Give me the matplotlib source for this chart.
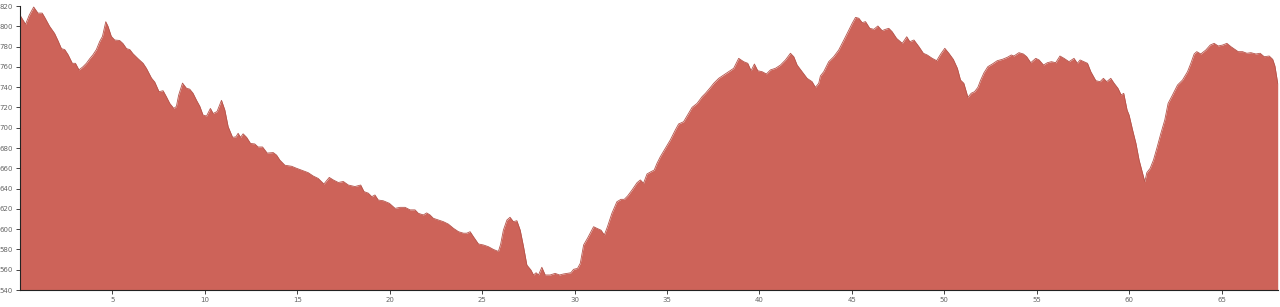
import matplotlib
matplotlib.use("Agg")
import matplotlib.pyplot as plt

# distance along route (km)
distance_km = [
    0.0, 0.3, 0.5, 0.74, 0.97, 1.2, 1.33, 1.6, 1.87, 2.05, 2.24, 2.42, 2.6, 2.83, 3.0,
    3.19, 3.4, 3.59, 3.77, 3.95, 4.13, 4.31, 4.46, 4.64, 4.76, 4.94, 5.12, 5.39, 5.57,
    5.76, 5.94, 6.11, 6.39, 6.66, 6.84, 7.11, 7.29, 7.52, 7.74, 7.92, 8.1, 8.32, 8.46,
    8.58, 8.79, 9.0, 9.18, 9.36, 9.55, 9.73, 9.9, 10.09, 10.3, 10.45, 10.66, 10.9,
    11.08, 11.26, 11.5, 11.68, 11.8, 11.93, 12.07, 12.26, 12.47, 12.7, 12.88, 13.12,
    13.37, 13.7, 13.88, 14.06, 14.33, 14.69, 14.96, 15.32, 15.59, 15.86, 16.13, 16.44,
    16.73, 16.95, 17.22, 17.49, 17.76, 18.12, 18.43, 18.61, 18.84, 19.03, 19.2, 19.38,
    19.65, 19.98, 20.29, 20.56, 20.83, 21.1, 21.37, 21.55, 21.82, 22.0, 22.18, 22.36,
    22.63, 22.9, 23.17, 23.45, 23.72, 23.99, 24.17, 24.35, 24.53, 24.8, 25.07, 25.34,
    25.61, 25.88, 26.0, 26.15, 26.34, 26.51, 26.69, 26.88, 27.06, 27.24, 27.42, 27.64,
    27.78, 27.92, 28.05, 28.23, 28.41, 28.68, 28.95, 29.19, 29.4, 29.59, 29.8, 29.95,
    30.16, 30.31, 30.49, 30.7, 30.89, 31.03, 31.21, 31.43, 31.61, 31.78, 32.02, 32.29,
    32.51, 32.69, 32.87, 33.11, 33.38, 33.56, 33.73, 33.92, 34.13, 34.31, 34.46, 34.64,
    34.91, 35.18, 35.45, 35.63, 35.9, 36.17, 36.36, 36.63, 36.9, 37.08, 37.31, 37.53,
    37.8, 38.07, 38.34, 38.61, 38.88, 39.15, 39.37, 39.55, 39.73, 39.91, 40.15, 40.38,
    40.6, 40.87, 41.14, 41.41, 41.68, 41.86, 42.04, 42.31, 42.58, 42.85, 43.03, 43.21,
    43.3, 43.48, 43.75, 44.02, 44.29, 44.57, 44.84, 45.02, 45.2, 45.38, 45.56, 45.74,
    45.97, 46.19, 46.41, 46.64, 46.82, 47.0, 47.18, 47.42, 47.73, 47.97, 48.14, 48.36,
    48.63, 48.87, 49.08, 49.35, 49.59, 49.81, 50.03, 50.25, 50.49, 50.71, 50.88, 51.06,
    51.28, 51.46, 51.64, 51.82, 51.97, 52.15, 52.36, 52.6, 52.87, 53.14, 53.41, 53.63,
    53.77, 54.04, 54.28, 54.46, 54.68, 54.95, 55.13, 55.37, 55.58, 55.8, 56.03, 56.26,
    56.48, 56.75, 57.02, 57.2, 57.35, 57.56, 57.75, 57.93, 58.2, 58.43, 58.61, 58.79,
    59.01, 59.19, 59.4, 59.57, 59.71, 59.89, 60.0, 60.19, 60.37, 60.54, 60.73, 60.85,
    60.96, 61.14, 61.32, 61.5, 61.72, 61.93, 62.11, 62.35, 62.62, 62.89, 63.16, 63.34,
    63.52, 63.66, 63.88, 64.15, 64.39, 64.6, 64.82, 65.06, 65.29, 65.51, 65.72, 65.9,
    66.14, 66.37, 66.59, 66.86, 67.09, 67.31, 67.58, 67.77, 67.89, 68.04,
]

# elevation (m)
elevation_m = [
    811, 802, 811, 819, 813, 813, 809, 800, 793, 786, 778, 777, 772, 763.5, 763.5,
    757, 760, 763.5, 768, 772, 777, 785, 790, 804.5, 800, 790, 786.5, 786, 783,
    778, 777, 773, 768, 763.5, 758.5, 749, 745, 735.5, 736.5, 730.5, 724, 719, 721,
    732, 744, 739, 738, 734, 727, 721, 712.5, 711.5, 719, 714, 716, 727,
    717.5, 701, 690.5, 691, 694.5, 690.5, 694, 690.5, 684.5, 684, 681, 681,
    675, 675.5, 673, 668, 663, 662, 660, 657.6, 655.7, 652.4, 650, 644.5,
    651, 648.5, 646, 647, 643.5, 642, 643.5, 637, 635.5, 632, 633.7, 628.7,
    628, 625.5, 620.5, 621.5, 621.5, 619, 619, 615.6, 614, 616, 614, 610.7,
    609, 607.4, 605, 600.8, 597.5, 596, 596, 597.5, 592.5, 585.4, 584.4, 582.7,
    580, 578, 585, 599, 609, 611.7, 607.4, 608.3, 599, 582.7, 564.6, 559.7,
    554.8, 557, 554.8, 562.4, 554.8, 554.8, 556.4, 554.8, 555.8, 556.4, 557, 560.4,
    561.3, 566.3, 584.4, 591, 597.5, 602.4, 600.8, 599, 594.2, 602.4, 615.6, 627,
    629.4, 629.4, 632.7, 638.6, 645.8, 648.5, 645.2, 654.4, 656.6, 658.3, 664.9, 671.4,
    679.7, 687.9, 697.7, 703.7, 705.9, 714.2, 720.1, 724, 730.6, 733.9, 738.8, 743.8,
    748.7, 752, 755.2, 758.6, 768.4, 765.1, 763.5, 756.2, 762.8, 756.2, 755.2, 753,
    757, 758.6, 761.8, 766.8, 773.4, 770, 761.8, 755.2, 748.7, 745.4, 739.8, 743.8,
    751, 755.2, 765.1, 770, 776.6, 786.5, 796.3, 802.9, 808.8, 807.9, 803.6, 804.6,
    798, 797, 800.3, 795.7, 797, 798, 794.7, 788.1, 783.2, 789.7, 784.8, 786.5,
    779.9, 773.4, 771.7, 768.4, 766.1, 772.7, 778.3, 773.4, 767.4, 758.6, 747, 743.8,
    730, 734, 735.5, 739.8, 747, 754.2, 760.2, 762.8, 766.1, 767.4, 769.4, 771.7,
    770.7, 774, 772.7, 770, 764.1, 768.4, 766.8, 761.8, 764.1, 765.1, 764.1, 770.7,
    768.4, 765.1, 768.4, 763.5, 766.8, 765.1, 763.5, 755.2, 746.4, 745.4, 748.7, 745.4,
    748.7, 743.8, 738.8, 732.3, 733.9, 717.5, 712.5, 697.7, 684.6, 668.2, 655, 646.8,
    655.7, 660, 668.2, 679.7, 694.5, 707.6, 724, 732.3, 742.1, 747, 755.2, 763.5,
    772.7, 775, 772.7, 776.6, 781.5, 783.2, 780.6, 781.5, 783.2, 779.9, 777.3, 775,
    775, 773.4, 774, 772.7, 773.4, 770, 770.7, 767.4, 760.8, 743.8,
]

x_ticks = [5, 10, 15, 20, 25, 30, 35, 40, 45, 50, 55, 60, 65]
y_ticks = [540, 560, 580, 600, 620, 640, 660, 680, 700, 720, 740, 760, 780, 800, 820]

fill_color = "#cd6359"

fig = plt.figure(figsize=(12.8, 3.07), dpi=100)
ax = fig.add_axes([20 / 1280, 17 / 307, (1277.7 - 20) / 1280, (290 - 6) / 307])

ax.fill_between(distance_km, elevation_m, 540, color=fill_color, linewidth=0)
ax.plot(distance_km, elevation_m, color="#b5544b", linewidth=0.6)

ax.set_xlim(0, distance_km[-1])
ax.set_ylim(540, 820)
ax.set_xticks(x_ticks)
ax.set_yticks(y_ticks)

for side in ("top", "right"):
    ax.spines[side].set_visible(False)
for side in ("left", "bottom"):
    ax.spines[side].set_color("#222222")
    ax.spines[side].set_linewidth(0.8)

ax.tick_params(axis="both", labelsize=5, colors="#222222", labelcolor="#666666",
               length=3, width=0.6, pad=2)

fig.savefig("out.png", dpi=100)
